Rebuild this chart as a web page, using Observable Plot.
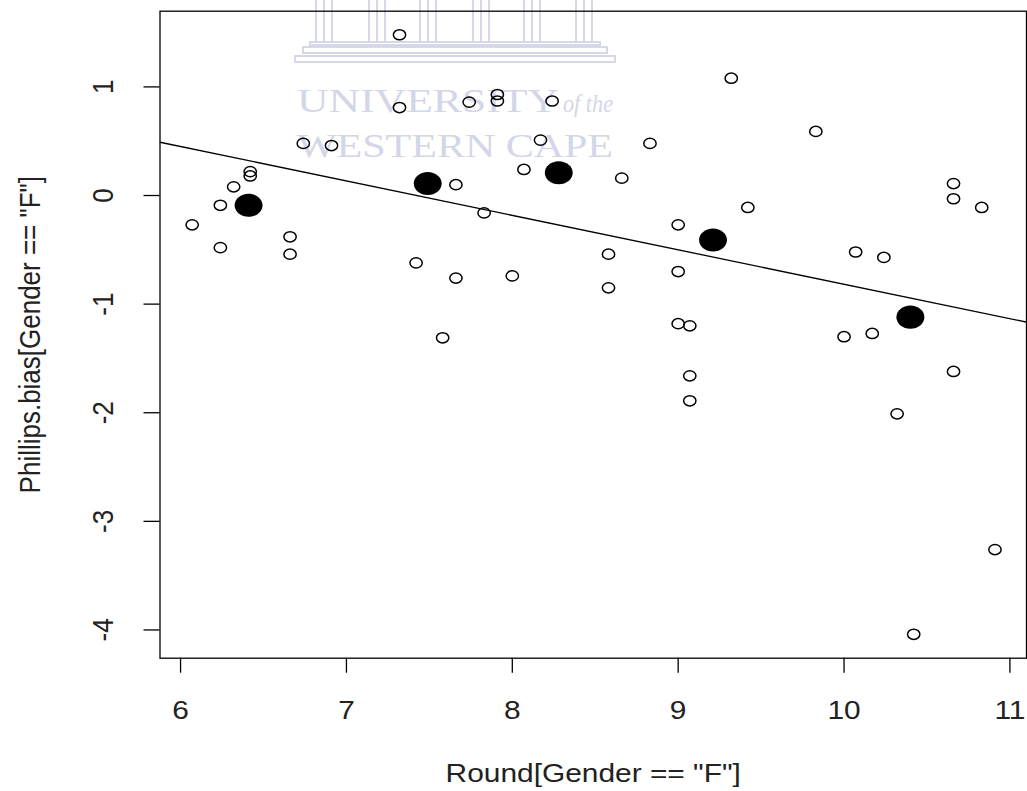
<!DOCTYPE html>
<html>
<head>
<meta charset="utf-8">
<script src="https://cdn.jsdelivr.net/npm/d3@7"></script>
<script src="https://cdn.jsdelivr.net/npm/@observablehq/plot@0.6"></script>
<style>
  html, body { margin: 0; padding: 0; background: #fff; }
  #wrap { position: relative; width: 1027px; height: 791px; overflow: hidden; }
  #wm, #chart { position: absolute; left: 0; top: 0; }
</style>
</head>
<body>
<div id="wrap">
  <svg id="wm" width="1027" height="791">
    <g fill="none" stroke="#d6d8e8" stroke-width="2">
      <rect x="316" y="-2" width="16" height="44"/><line x1="324" y1="-2" x2="324" y2="42"/>
      <rect x="369" y="-2" width="16" height="44"/><line x1="377" y1="-2" x2="377" y2="42"/>
      <rect x="420" y="-2" width="16" height="44"/><line x1="428" y1="-2" x2="428" y2="42"/>
      <rect x="473" y="-2" width="16" height="44"/><line x1="481" y1="-2" x2="481" y2="42"/>
      <rect x="524" y="-2" width="16" height="44"/><line x1="532" y1="-2" x2="532" y2="42"/>
      <rect x="576" y="-2" width="16" height="44"/><line x1="584" y1="-2" x2="584" y2="42"/>
      <rect x="310" y="42" width="290" height="3"/>
      <rect x="303" y="47" width="304" height="6"/>
      <rect x="295" y="56" width="320" height="6"/>
    </g>
    <g fill="#d3d6e8" font-family="Liberation Serif, DejaVu Serif, serif">
      <text x="297" y="112" font-size="33" textLength="262" lengthAdjust="spacingAndGlyphs">UNIVERSITY</text>
      <text x="563" y="112" font-size="26" font-style="italic" textLength="50" lengthAdjust="spacingAndGlyphs">of the</text>
      <text x="297" y="157" font-size="33" textLength="316" lengthAdjust="spacingAndGlyphs">WESTERN CAPE</text>
    </g>
  </svg>
  <div id="chart"></div>
</div>
<script>
// ---- data ----
const roundF = [7.32, 7.32, 7.74, 7.91, 7.91, 8.24, 8.17, 6.74, 6.91, 6.42, 6.42, 6.32, 6.24, 6.07, 6.24, 6.66, 6.66,
  8.07, 7.66, 7.83, 7.42, 7.66, 8.00, 9.32, 9.83, 8.83, 8.66, 9.42, 9.00, 8.58, 9.00, 8.58,
  10.66, 10.66, 10.83, 10.07, 10.24, 9.00, 9.07, 10.00, 10.17, 10.66, 9.07, 9.07, 10.32, 10.91, 10.42, 7.58];
const biasF = [1.48, 0.81, 0.86, 0.93, 0.87, 0.87, 0.51, 0.48, 0.46, 0.22, 0.18, 0.08, -0.09, -0.27, -0.48, -0.38, -0.54,
  0.24, 0.10, -0.16, -0.62, -0.76, -0.74, 1.08, 0.59, 0.48, 0.16, -0.11, -0.27, -0.54, -0.70, -0.85,
  0.11, -0.03, -0.11, -0.52, -0.57, -1.18, -1.20, -1.30, -1.27, -1.62, -1.66, -1.89, -2.01, -3.26, -4.04, -1.31];
const meanRound = [6.41, 7.49, 8.28, 9.21, 10.40];
const meanBias = [-0.09, 0.11, 0.21, -0.41, -1.12];
const fitIntercept = 2.353;
const fitSlope = -0.317;
const xTicks = [6, 7, 8, 9, 10, 11];
const yTicks = [-4, -3, -2, -1, 0, 1];
const xDomain = [5.876, 11.10];
const yDomain = [-4.26, 1.697];
const xTitle = 'Round[Gender == "F"]';
const yTitle = 'Phillips.bias[Gender == "F"]';

const points = roundF.map((x, i) => ({x, y: biasF[i]}));
const means = meanRound.map((x, i) => ({x, y: meanBias[i]}));
const fitLine = xDomain.map(x => ({x, y: fitIntercept + fitSlope * x}));

// the reference picture is slightly wider than tall: circles appear as ellipses
const stretch = 1.15;
const ellipse = {
  draw(ctx, size) {
    const r = Math.sqrt(size / Math.PI);
    const rx = r * 1.1, ry = r * 0.91, k = 0.5523;
    ctx.moveTo(rx, 0);
    ctx.bezierCurveTo(rx, ry * k, rx * k, ry, 0, ry);
    ctx.bezierCurveTo(-rx * k, ry, -rx, ry * k, -rx, 0);
    ctx.bezierCurveTo(-rx, -ry * k, -rx * k, -ry, 0, -ry);
    ctx.bezierCurveTo(rx * k, -ry, rx, -ry * k, rx, 0);
    ctx.closePath();
  }
};

const chart = Plot.plot({
  width: 1027,
  height: 791,
  marginLeft: 159.5,
  marginRight: 1,
  marginTop: 10.7,
  marginBottom: 133.3,
  x: {domain: xDomain},
  y: {domain: yDomain},
  style: {background: "transparent", fontFamily: "Liberation Sans, Arial, sans-serif", fontSize: "26px", color: "#000"},
  marks: [
    Plot.line(fitLine, {x: "x", y: "y", stroke: "#000", strokeWidth: 1.3, clip: true}),
    Plot.dot(points, {x: "x", y: "y", r: 5.6, symbol: ellipse, stroke: "#000", strokeWidth: 1.5, fill: "none"}),
    Plot.dot(means, {x: "x", y: "y", r: 12.7, symbol: ellipse, fill: "#000", stroke: "none"}),
    Plot.frame({stroke: "#000", strokeWidth: 1.3}),
    Plot.axisX({ticks: xTicks, tickSize: 15, tickPadding: 27, tickFormat: d => String(d), label: null, stroke: "#000", strokeWidth: 1.3, fill: "#222"}),
    Plot.axisY({ticks: yTicks, tickSize: 16, tickFormat: () => "", label: null, stroke: "#000", strokeWidth: 1.3}),
    Plot.text(yTicks, {y: d => d, text: d => String(d), frameAnchor: "left", dx: -57, rotate: -90, textAnchor: "middle", lineAnchor: "middle", fill: "#222"}),
    Plot.text([xTitle], {text: d => d, frameAnchor: "bottom", dy: 115, textAnchor: "middle", lineAnchor: "middle", fill: "#222"}),
    Plot.text([yTitle], {text: d => d, frameAnchor: "left", dx: -130, rotate: -90, textAnchor: "middle", lineAnchor: "middle", fill: "#222"})
  ]
});

// widen glyphs horizontally like the reference
d3.select(chart).selectAll("text").each(function () {
  const t = this.getAttribute("transform");
  if (!t) return;
  const extra = /rotate/.test(t) ? ` scale(1,${stretch})` : ` scale(${stretch},1)`;
  this.setAttribute("transform", t + extra);
});

document.getElementById("chart").appendChild(chart);
</script>
</body>
</html>
